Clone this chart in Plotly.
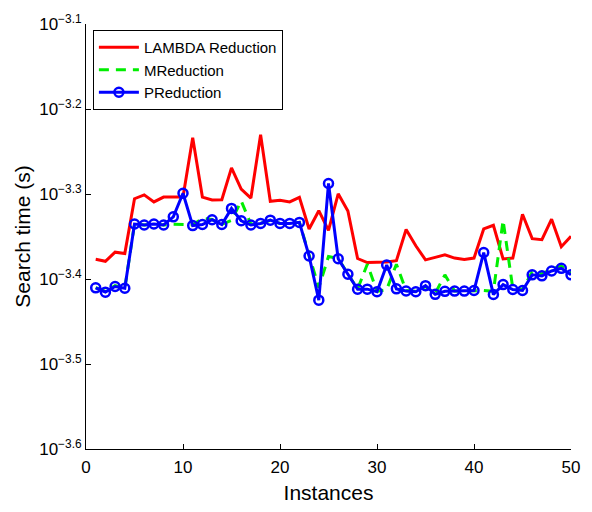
import plotly.graph_objects as go

# Problem instances 1..50
instances = list(range(1, 51))

# Search time (seconds) for each reduction method
lambda_reduction = [
    4.199e-4, 4.177e-4, 4.281e-4, 4.266e-4, 4.948e-4, 5.000e-4, 4.905e-4, 4.970e-4, 4.970e-4, 4.970e-4,
    5.836e-4, 4.970e-4, 4.931e-4, 4.934e-4, 5.379e-4, 5.080e-4, 4.957e-4, 5.883e-4, 4.914e-4, 4.928e-4,
    4.905e-4, 4.966e-4, 4.559e-4, 4.790e-4, 4.541e-4, 5.015e-4, 4.786e-4, 4.208e-4, 4.162e-4, 4.162e-4,
    4.169e-4, 4.184e-4, 4.552e-4, 4.356e-4, 4.193e-4, 4.221e-4, 4.251e-4, 4.213e-4, 4.196e-4, 4.213e-4,
    4.559e-4, 4.605e-4, 4.203e-4, 4.213e-4, 4.744e-4, 4.441e-4, 4.429e-4, 4.682e-4, 4.345e-4, 4.469e-4,
]
m_reduction = [
    3.890e-4, 3.850e-4, 3.910e-4, 3.882e-4, 4.620e-4, 4.608e-4, 4.620e-4, 4.608e-4, 4.617e-4, 4.617e-4,
    4.611e-4, 4.691e-4, 4.677e-4, 4.617e-4, 4.666e-4, 4.918e-4, 4.617e-4, 4.628e-4, 4.666e-4, 4.628e-4,
    4.628e-4, 4.641e-4, 4.243e-4, 3.890e-4, 4.232e-4, 4.210e-4, 4.036e-4, 3.874e-4, 4.144e-4, 3.850e-4,
    3.869e-4, 4.144e-4, 3.859e-4, 3.850e-4, 3.901e-4, 3.829e-4, 4.026e-4, 3.854e-4, 3.854e-4, 3.859e-4,
    3.859e-4, 3.850e-4, 4.666e-4, 3.880e-4, 3.869e-4, 4.057e-4, 4.036e-4, 4.090e-4, 4.122e-4, 4.047e-4,
]
p_reduction = [
    3.887e-4, 3.842e-4, 3.901e-4, 3.882e-4, 4.620e-4, 4.608e-4, 4.620e-4, 4.608e-4, 4.711e-4, 5.022e-4,
    4.601e-4, 4.614e-4, 4.674e-4, 4.614e-4, 4.820e-4, 4.661e-4, 4.608e-4, 4.628e-4, 4.669e-4, 4.628e-4,
    4.628e-4, 4.641e-4, 4.237e-4, 3.759e-4, 5.157e-4, 4.205e-4, 4.033e-4, 3.872e-4, 3.873e-4, 3.846e-4,
    4.135e-4, 3.876e-4, 3.854e-4, 3.846e-4, 3.910e-4, 3.819e-4, 3.850e-4, 3.853e-4, 3.853e-4, 3.859e-4,
    4.277e-4, 3.817e-4, 3.921e-4, 3.869e-4, 3.859e-4, 4.026e-4, 4.015e-4, 4.068e-4, 4.098e-4, 4.026e-4,
]

# Axis ticks
x_ticks = [0, 10, 20, 30, 40, 50]
y_exponents = ["-3.6", "-3.5", "-3.4", "-3.3", "-3.2", "-3.1"]
y_tick_vals = [10 ** float(e) for e in y_exponents]
y_tick_text = ["10<sup>" + e.replace("-", "\u2212") + "</sup>" for e in y_exponents]

FONT = "Liberation Sans, Arial, Helvetica, sans-serif"

fig = go.Figure()
fig.add_trace(go.Scatter(
    x=instances, y=lambda_reduction, name="LAMBDA Reduction", mode="lines",
    line=dict(color="#ff0000", width=3),
))
fig.add_trace(go.Scatter(
    x=instances, y=m_reduction, name="MReduction", mode="lines",
    line=dict(color="#00ee00", width=3, dash="10px,7px"),
))
fig.add_trace(go.Scatter(
    x=instances, y=p_reduction, name="PReduction", mode="lines+markers",
    line=dict(color="#0000ff", width=3),
    marker=dict(symbol="circle-open", size=9, color="#0000ff", line=dict(width=2.5, color="#0000ff")),
))

fig.update_layout(
    width=592, height=512,
    margin=dict(l=86, r=14, t=21, b=54),
    paper_bgcolor="white", plot_bgcolor="white",
    font=dict(family=FONT, color="black", size=17),
    showlegend=True,
    legend=dict(
        x=0.0142, y=0.986, xanchor="left", yanchor="top",
        bgcolor="white", bordercolor="black", borderwidth=1,
        font=dict(family=FONT, size=15, color="black"),
        tracegroupgap=0, itemwidth=40,
    ),
    xaxis=dict(
        range=[0, 50], tickvals=x_ticks, ticks="inside", ticklen=5, tickcolor="black",
        showline=True, linecolor="black", linewidth=1, mirror=False,
        showgrid=False, zeroline=False,
        tickfont=dict(size=17), ticklabelstandoff=3,
        title=dict(text="Instances", font=dict(size=21), standoff=8),
    ),
    yaxis=dict(
        type="log", range=[-3.6, -3.1], tickvals=y_tick_vals, ticktext=y_tick_text,
        ticks="inside", ticklen=5, tickcolor="black",
        showline=True, linecolor="black", linewidth=1, mirror=False,
        showgrid=False, zeroline=False,
        tickfont=dict(size=17),
        title=dict(text="Search time (s)", font=dict(size=21), standoff=2),
    ),
)

fig.write_html("out.html")
